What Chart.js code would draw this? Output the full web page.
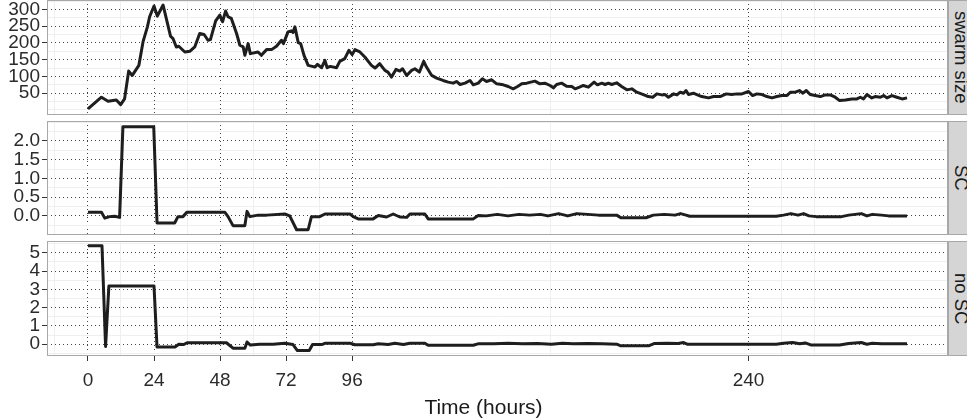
<!DOCTYPE html>
<html>
<head>
<meta charset="utf-8">
<script src="https://cdn.jsdelivr.net/npm/chart.js@4.4.1/dist/chart.umd.min.js"></script>
<style>
  html, body { margin: 0; padding: 0; background: #fff; overflow: hidden; }
  #plot { position: relative; width: 967px; height: 419px; overflow: hidden; font-family: 'Liberation Sans', Arial, sans-serif; }
  #plot canvas { position: absolute; left: 0; }
  .strip { position: absolute; left: 948px; width: 26px; box-sizing: border-box; background: #d5d5d5; border: 1px solid #a8a8a8; display: flex; align-items: center; justify-content: center; }
  .strip span { writing-mode: vertical-rl; font-size: 18.5px; color: #1a1a1a; white-space: nowrap; }
  #xtitle { position: absolute; left: 0; width: 967px; top: 396px; text-align: center; font-size: 21px; line-height: 21px; color: #1a1a1a; }
</style>
</head>
<body>
<div id="plot">
  <canvas id="swarm" width="948" height="115" style="top:0px"></canvas>
  <canvas id="sc" width="948" height="114" style="top:121px"></canvas>
  <canvas id="nosc" width="948" height="178" style="top:241px"></canvas>
  <div class="strip" style="top:0px;height:115px"><span id="strip0"></span></div>
  <div class="strip" style="top:121px;height:114px"><span id="strip1"></span></div>
  <div class="strip" style="top:241px;height:115px"><span id="strip2"></span></div>
  <div id="xtitle">Time (hours)</div>
</div>
<script>
// panel names, top to bottom
const stripLabels = ['swarm size', 'SC', 'no SC'];

// x axis (hours)
const xMajor = [0, 24, 48, 72, 96, 240];
const xMinor = [-12, 12, 36, 60, 84, 168, 252, 264];
const xRange = [-14.88, 312.48];

// swarm size
const swarmTime = [0, 4.9, 7.3, 10.3, 11.9, 13.3, 14.8, 16.1, 18.5, 20, 21.6, 22.4, 24, 25.2, 27.3, 30, 30.9, 32.1, 33, 35.2,
  37, 38.8, 40.6, 42.2, 43.6, 44.5, 46.4, 47.9, 48.9, 50, 50.9, 52.1, 54, 55.2, 56.4, 57, 58.2, 59, 61.8, 63,
  64.9, 66.7, 68.5, 70.3, 71, 72.7, 73.9, 74.5, 75.2, 76.4, 77.3, 78.5, 80, 81.5, 82.5, 83.4, 84.9, 86.1, 86.9, 88,
  90.3, 91.5, 93.3, 94.8, 96, 97, 98.8, 100.6, 103, 104.3, 106, 107.9, 109, 110.3, 111.9, 113.3, 114.3, 115.8, 117.6, 118.8,
  120.4, 122, 123, 124.9, 126.7, 129, 130.9, 132.7, 133.9, 135.2, 137, 138.8, 140, 141.8, 143.3, 144.8, 146.7, 148.5, 150.9, 152.7,
  154.5, 156.1, 157.6, 159.4, 162.4, 164.2, 166, 167.9, 169.1, 170.3, 172.1, 173.9, 175.8, 177, 178.6, 180, 181.8, 183.9, 185.1, 186.7,
  187.9, 189.1, 190.3, 192.1, 193.9, 195.8, 197.6, 199.4, 201.8, 203.6, 205.2, 206.7, 208.5, 209.7, 210.9, 212.8, 214, 215.2, 216.4, 217.3,
  218.2, 220, 221.2, 223, 225.5, 227.3, 229.7, 231.9, 233.9, 235.8, 237.6, 240, 241.5, 243, 244.9, 246.7, 248.5, 250.3, 252.1, 254,
  255.2, 257, 258.5, 259.8, 261, 262.4, 264.2, 266.1, 267.9, 269.7, 271.5, 273.1, 275.2, 277.6, 279.4, 280.6, 281.8, 283, 284.8, 286,
  287.9, 289.1, 290.3, 292.1, 293.9, 295.8, 297.6];
const swarmSize = [3, 38, 26, 30, 16, 33, 116, 103, 133, 203, 248, 278, 310, 280, 313, 220, 213, 188, 190, 173,
  175, 188, 228, 225, 208, 210, 266, 283, 263, 295, 278, 273, 228, 193, 188, 163, 198, 168, 173, 163,
  180, 180, 190, 208, 198, 233, 236, 231, 248, 201, 198, 163, 133, 130, 128, 136, 126, 148, 126, 130,
  126, 145, 153, 178, 165, 180, 173, 158, 133, 125, 138, 118, 113, 98, 121, 116, 123, 103, 118, 123,
  113, 145, 128, 103, 95, 88, 83, 80, 85, 76, 80, 88, 75, 80, 93, 85, 90, 78, 75, 70,
  63, 70, 78, 80, 86, 78, 80, 73, 66, 76, 80, 71, 70, 63, 68, 73, 68, 83, 75, 80,
  76, 80, 76, 81, 70, 60, 63, 53, 46, 40, 38, 48, 45, 46, 38, 48, 45, 53, 50, 58,
  46, 50, 46, 40, 36, 40, 40, 48, 46, 48, 48, 55, 43, 48, 46, 40, 36, 40, 43, 43,
  53, 53, 58, 50, 58, 46, 43, 40, 45, 45, 38, 28, 30, 33, 33, 38, 33, 46, 36, 40,
  38, 43, 36, 43, 38, 33, 36];
const swarmMajor = [50, 100, 150, 200, 250, 300];
const swarmMinor = [0, 25, 75, 125, 175, 225, 275, 325];
const swarmRange = [-15, 328];

// SC
const scTime = [0, 4.9, 6.1, 7.9, 9.7, 11.5, 12.7, 23.9, 25.1, 31.5, 32.7, 34.5, 36, 49.7, 50.9, 52.7, 57, 57.8, 58.8, 61.8,
  64.9, 71.5, 73.3, 75.8, 80, 81.2, 84.2, 86.1, 95.2, 96.4, 98.2, 103.6, 105.5, 108.5, 110.9, 113.3, 115.8, 117, 122.4, 123.6,
  140, 141.8, 144.7, 148.7, 152.6, 156.6, 160.5, 164.4, 167.1, 168.4, 171, 174.3, 177.6, 181.6, 185.5, 192.1, 193.6, 202.8, 205.4, 209.4,
  213.3, 215.3, 217.3, 218.6, 250.1, 252.7, 255.4, 258, 260, 262, 264.6, 273.8, 276.4, 281, 283, 285, 288.3, 290.9, 297.6];
const scValue = [0.10, 0.10, -0.06, -0.02, -0.01, -0.04, 2.38, 2.38, -0.19, -0.19, -0.02, -0.02, 0.10, 0.10, -0.02, -0.26, -0.26, 0.12, -0.02, 0.02,
  0.02, 0.05, 0.00, -0.37, -0.37, -0.02, -0.02, 0.05, 0.05, -0.02, -0.08, -0.08, 0.01, -0.03, 0.05, -0.03, -0.04, 0.05, 0.05, -0.08,
  -0.08, 0.01, 0.00, 0.04, 0.00, 0.04, 0.02, 0.04, 0.00, 0.02, 0.06, 0.00, 0.06, 0.04, 0.02, 0.02, -0.05, -0.05, 0.02, 0.04,
  0.02, 0.06, 0.02, -0.01, -0.01, 0.02, 0.06, 0.02, 0.06, 0.00, -0.02, -0.02, 0.02, 0.06, 0.00, 0.04, 0.02, 0.00, 0.00];
const scMajor = [0, 0.5, 1, 1.5, 2];
const scMinor = [-0.5, -0.25, 0.25, 0.75, 1.25, 1.75, 2.25, 2.5];
const scRange = [-0.51, 2.53];

// no SC
const noScTime = [0, 5.1, 6.4, 7.6, 24, 25.1, 31.6, 33, 34.8, 36, 50.3, 52.7, 57, 57.8, 59, 62.4, 67.3, 71.5, 74.5, 76.1,
  80.4, 81.6, 84.9, 86.1, 95.2, 97, 103.6, 105.5, 109.1, 111.5, 114.6, 117, 122.4, 123.6, 140, 142, 147.5, 152.6, 157.9, 163.2,
  168.4, 172.4, 176.3, 181.6, 186.8, 192.1, 193.4, 203.9, 205.9, 210.5, 214.4, 216.4, 217.7, 250.1, 252.7, 256, 258.6, 260.6, 262.6, 273.1,
  276.4, 281, 283, 285, 288.3, 297.6];
const noScValue = [5.38, 5.38, -0.13, 3.18, 3.18, -0.16, -0.16, 0.00, -0.02, 0.08, 0.08, -0.22, -0.22, 0.12, -0.05, 0.00, 0.00, 0.05, -0.02, -0.35,
  -0.35, -0.02, -0.02, 0.05, 0.05, -0.03, -0.03, 0.02, -0.02, 0.05, -0.02, 0.05, 0.05, -0.06, -0.06, 0.03, 0.02, 0.05, 0.02, 0.04,
  0.00, 0.05, 0.02, 0.04, 0.02, 0.00, -0.08, -0.08, 0.04, 0.05, 0.04, 0.09, 0.00, 0.00, 0.05, 0.09, 0.02, 0.07, -0.04, -0.04,
  0.04, 0.09, 0.00, 0.05, 0.02, 0.02];
const noScMajor = [0, 1, 2, 3, 4, 5];
const noScMinor = [-0.5, 0.5, 1.5, 2.5, 3.5, 4.5, 5.5];
const noScRange = [-0.646, 5.646];

const FONT = "'Liberation Sans', Arial, Helvetica, sans-serif";
const lineColor = '#1e1e1e';
const majorGrid = '#444444';
const minorGrid = '#efefef';
const frameColor = '#a8a8a8';

// white panel with a grey frame around the plotting area
const panelFrame = {
  id: 'panelFrame',
  beforeDraw(chart) {
    const { ctx, chartArea: a } = chart;
    ctx.save();
    ctx.fillStyle = '#ffffff';
    ctx.fillRect(a.left, a.top, a.right - a.left, a.bottom - a.top);
    ctx.restore();
  },
  afterDatasetsDraw(chart) {
    const { ctx, chartArea: a } = chart;
    ctx.save();
    ctx.strokeStyle = frameColor;
    ctx.lineWidth = 1;
    ctx.strokeRect(a.left + 0.5, a.top + 0.5, a.right - a.left - 1, a.bottom - a.top - 1);
    ctx.restore();
  }
};

const isIn = (list, v) => list.some(m => Math.abs(m - v) < 1e-9);

function makePanel(id, times, values, yRange, yMajor, yMinor, fmt, showX) {
  const xTicks = xMajor.concat(xMinor).sort((a, b) => a - b);
  const yTicks = yMajor.concat(yMinor).sort((a, b) => a - b);
  return new Chart(document.getElementById(id), {
    type: 'line',
    data: {
      datasets: [{
        data: times.map((t, i) => ({ x: t, y: values[i] })),
        borderColor: lineColor,
        borderWidth: 3,
        borderJoinStyle: 'round',
        pointRadius: 0,
        tension: 0
      }]
    },
    options: {
      responsive: false,
      animation: false,
      events: [],
      layout: { padding: 0 },
      plugins: { legend: { display: false }, tooltip: { enabled: false } },
      scales: {
        x: {
          type: 'linear',
          min: xRange[0],
          max: xRange[1],
          afterBuildTicks: s => { s.ticks = xTicks.map(v => ({ value: v })); },
          afterFit: s => { s.height = showX ? 63 : 0; s.paddingLeft = 0; s.paddingRight = 0; },
          ticks: {
            display: showX,
            autoSkip: false,
            maxRotation: 0,
            padding: 8,
            color: '#2b2b2b',
            font: { family: FONT, size: 19 },
            callback: v => isIn(xMajor, v) ? String(v) : ''
          },
          grid: {
            color: c => (c.tick && isIn(xMajor, c.tick.value)) ? majorGrid : minorGrid,
            lineWidth: 1,
            drawTicks: showX,
            tickLength: 5,
            tickWidth: 1,
            tickColor: c => (c.tick && isIn(xMajor, c.tick.value)) ? '#333333' : 'rgba(0,0,0,0)'
          },
          border: {
            display: false,
            dash: c => (c.tick && isIn(xMajor, c.tick.value)) ? [1, 3] : []
          }
        },
        y: {
          min: yRange[0],
          max: yRange[1],
          afterBuildTicks: s => { s.ticks = yTicks.map(v => ({ value: v })); },
          afterFit: s => { s.width = 47; s.paddingTop = 0; s.paddingBottom = 0; },
          ticks: {
            autoSkip: false,
            padding: 2,
            color: '#2b2b2b',
            font: { family: FONT, size: 19 },
            callback: v => isIn(yMajor, v) ? fmt(v) : ''
          },
          grid: {
            color: c => (c.tick && isIn(yMajor, c.tick.value)) ? majorGrid : minorGrid,
            lineWidth: 1,
            tickLength: 5,
            tickWidth: 1,
            tickColor: c => (c.tick && isIn(yMajor, c.tick.value)) ? '#333333' : 'rgba(0,0,0,0)'
          },
          border: {
            display: false,
            dash: c => (c.tick && isIn(yMajor, c.tick.value)) ? [1, 3] : []
          }
        }
      }
    },
    plugins: [panelFrame]
  });
}

makePanel('swarm', swarmTime, swarmSize, swarmRange, swarmMajor, swarmMinor, v => String(v), false);
makePanel('sc', scTime, scValue, scRange, scMajor, scMinor, v => v.toFixed(1), false);
makePanel('nosc', noScTime, noScValue, noScRange, noScMajor, noScMinor, v => String(v), true);

stripLabels.forEach((t, i) => { document.getElementById('strip' + i).textContent = t; });
</script>
</body>
</html>
